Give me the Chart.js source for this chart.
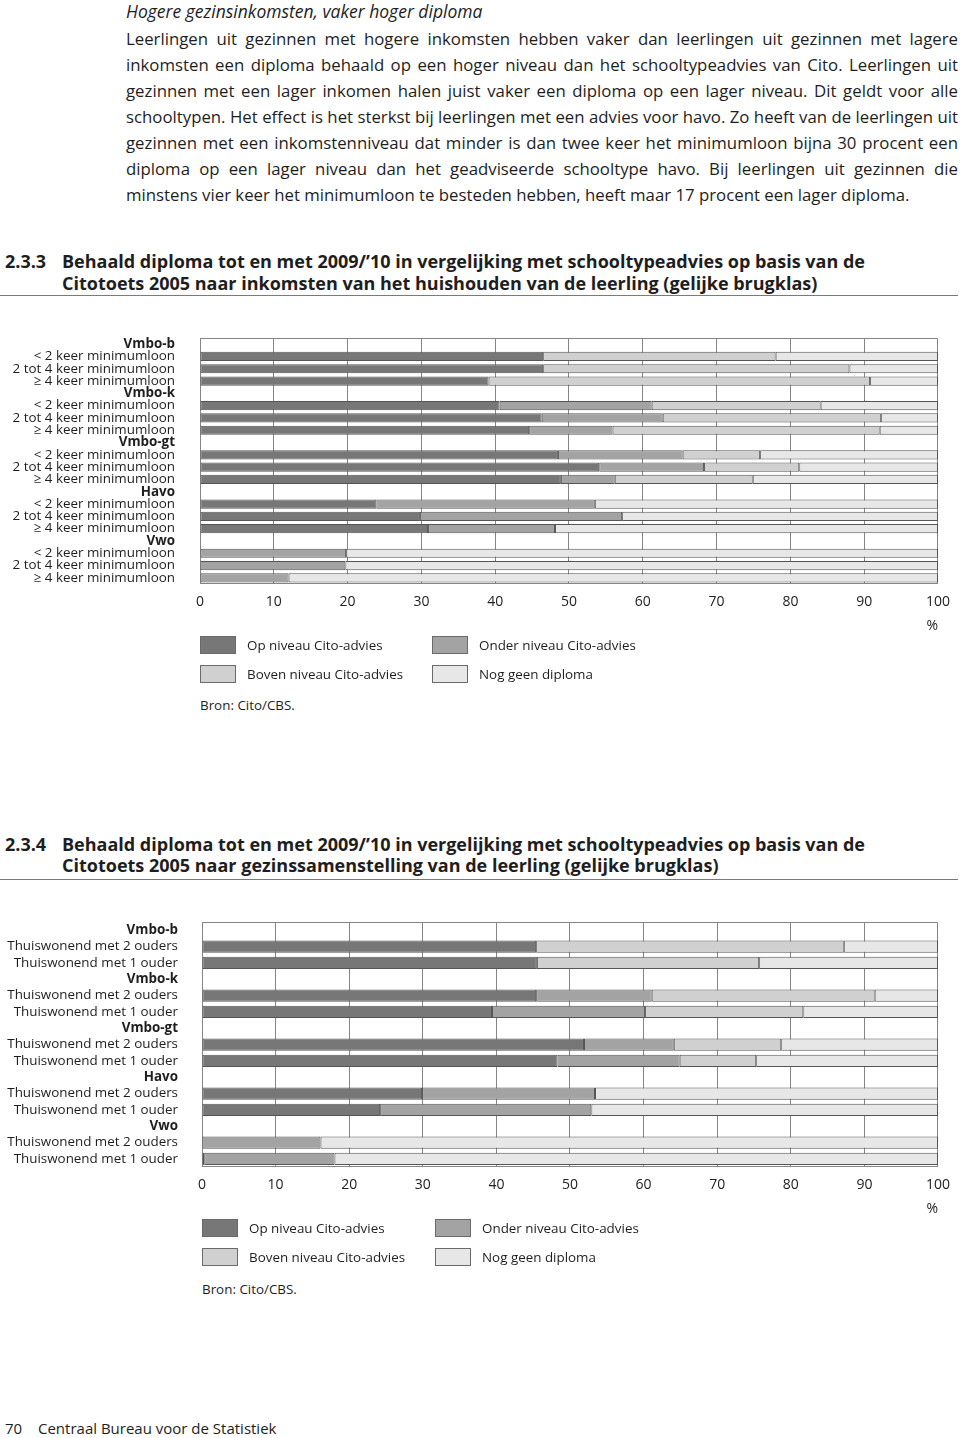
<!DOCTYPE html>
<html>
<head>
<meta charset="utf-8">
<script src="https://cdn.jsdelivr.net/npm/chart.js@4/dist/chart.umd.min.js"></script>
<style>
  body { margin: 0; width: 960px; height: 1438px; position: relative; background: #fff; overflow: hidden;
         font-family: "Open Sans", sans-serif; color: #1e1e1e; }
  .t { position: absolute; white-space: nowrap; line-height: 20px; }
  .body { font-size: 16.8px; }
  .head { font-size: 18px; font-weight: 700; }
  .rule { position: absolute; left: 0; width: 958px; height: 0; border-top: 1.5px solid #7a7a7a; }
  .legend { position: absolute; font-size: 13.4px; }
  .sw { position: absolute; width: 34px; height: 16px; border: 1px solid #6a6a6a; }
  .lt { position: absolute; white-space: nowrap; line-height: 18px; }
  canvas { position: absolute; left: 0; }
</style>
</head>
<body>

<div class="t" style="left:126px;top:1px;font-style:italic;font-size:17.5px">Hogere gezinsinkomsten, vaker hoger diploma</div>
<div id="para"></div>

<div class="t head" style="left:5px;top:251px">2.3.3</div>
<div class="t head" style="left:62px;top:251px">Behaald diploma tot en met 2009/’10 in vergelijking met schooltypeadvies op basis van de</div>
<div class="t head" style="left:62px;top:273px">Citotoets 2005 naar inkomsten van het huishouden van de leerling (gelijke brugklas)</div>
<div class="rule" style="top:295px"></div>

<canvas id="chart1" width="960" height="310" style="top:330px;width:960px;height:310px"></canvas>
<div id="legend1"></div>
<div class="t" style="left:200px;top:695px;font-size:13.4px">Bron: Cito/CBS.</div>

<div class="t head" style="left:5px;top:834px">2.3.4</div>
<div class="t head" style="left:62px;top:834px">Behaald diploma tot en met 2009/’10 in vergelijking met schooltypeadvies op basis van de</div>
<div class="t head" style="left:62px;top:855px">Citotoets 2005 naar gezinssamenstelling van de leerling (gelijke brugklas)</div>
<div class="rule" style="top:879px"></div>

<canvas id="chart2" width="960" height="310" style="top:914px;width:960px;height:310px"></canvas>
<div id="legend2"></div>
<div class="t" style="left:202px;top:1279px;font-size:13.4px">Bron: Cito/CBS.</div>

<div class="t" style="left:5px;top:1418px;font-size:15px">70</div>
<div class="t" style="left:38px;top:1418px;font-size:15px">Centraal Bureau voor de Statistiek</div>

<script>
// text of the paragraph, one entry per printed line
const paraLines = [
    'Leerlingen uit gezinnen met hogere inkomsten hebben vaker dan leerlingen uit gezinnen met lagere',
    'inkomsten een diploma behaald op een hoger niveau dan het schooltypeadvies van Cito. Leerlingen uit',
    'gezinnen met een lager inkomen halen juist vaker een diploma op een lager niveau. Dit geldt voor alle',
    'schooltypen. Het effect is het sterkst bij leerlingen met een advies voor havo. Zo heeft van de leerlingen uit',
    'gezinnen met een inkomstenniveau dat minder is dan twee keer het minimumloon bijna 30 procent een',
    'diploma op een lager niveau dan het geadviseerde schooltype havo. Bij leerlingen uit gezinnen die',
    'minstens vier keer het minimumloon te besteden hebben, heeft maar 17 procent een lager diploma.'
];

const seriesNames = ['Op niveau Cito-advies', 'Onder niveau Cito-advies', 'Boven niveau Cito-advies', 'Nog geen diploma'];
const seriesColors = ['#777777', '#a3a3a3', '#d0d0d0', '#e7e7e7'];
const headerNames = ['Vmbo-b', 'Vmbo-k', 'Vmbo-gt', 'Havo', 'Vwo'];
const xTicks = [0, 10, 20, 30, 40, 50, 60, 70, 80, 90, 100];

// chart 2.3.3: income
const labels1 = [
    'Vmbo-b', '< 2 keer minimumloon', '2 tot 4 keer minimumloon', '≥ 4 keer minimumloon',
    'Vmbo-k', '< 2 keer minimumloon', '2 tot 4 keer minimumloon', '≥ 4 keer minimumloon',
    'Vmbo-gt', '< 2 keer minimumloon', '2 tot 4 keer minimumloon', '≥ 4 keer minimumloon',
    'Havo', '< 2 keer minimumloon', '2 tot 4 keer minimumloon', '≥ 4 keer minimumloon',
    'Vwo', '< 2 keer minimumloon', '2 tot 4 keer minimumloon', '≥ 4 keer minimumloon'
];
const op1    = [null, 46.5, 46.5, 39.1, null, 40.6, 46.3, 44.6, null, 48.5, 54.1, 48.9, null, 23.9, 29.8, 30.9, null, null, null, null];
const onder1 = [null, null, null, null, null, 20.6, 16.4, 11.3, null, 16.9, 14.2, 7.3, null, 29.6, 27.4, 17.2, null, 19.8, 19.7, 12.0];
const boven1 = [null, 31.5, 41.5, 51.7, null, 22.9, 29.6, 36.2, null, 10.5, 12.9, 18.7, null, null, null, null, null, null, null, null];
const nog1   = [null, 22.0, 12.0, 9.2, null, 15.9, 7.7, 7.9, null, 24.1, 18.8, 25.1, null, 46.5, 42.8, 51.9, null, 80.2, 80.3, 88.0];

// chart 2.3.4: household
const labels2 = [
    'Vmbo-b', 'Thuiswonend met 2 ouders', 'Thuiswonend met 1 ouder',
    'Vmbo-k', 'Thuiswonend met 2 ouders', 'Thuiswonend met 1 ouder',
    'Vmbo-gt', 'Thuiswonend met 2 ouders', 'Thuiswonend met 1 ouder',
    'Havo', 'Thuiswonend met 2 ouders', 'Thuiswonend met 1 ouder',
    'Vwo', 'Thuiswonend met 2 ouders', 'Thuiswonend met 1 ouder'
];
const op2    = [null, 45.4, 45.5, null, 45.4, 39.4, null, 51.9, 48.3, null, 29.9, 24.2, null, null, 0.3];
const onder2 = [null, null, null, null, 15.7, 20.8, null, 12.2, 16.6, null, 23.5, 28.7, null, 16.1, 17.7];
const boven2 = [null, 41.8, 30.2, null, 30.3, 21.5, null, 14.6, 10.4, null, null, null, null, null, null];
const nog2   = [null, 12.8, 24.3, null, 8.6, 18.3, null, 21.3, 24.7, null, 46.6, 47.1, null, 83.9, 82.0];

// paragraph lines, justified except the last one
const para = document.getElementById('para');
paraLines.forEach(function (line, i) {
    const d = document.createElement('div');
    d.className = 't body';
    d.style.left = '126px';
    d.style.top = (29 + i * 26) + 'px';
    d.textContent = line;
    para.appendChild(d);
    if (i < paraLines.length - 1) {
        const w = d.getBoundingClientRect().width;
        const spaces = line.split(' ').length - 1;
        d.style.wordSpacing = ((832 - w) / spaces) + 'px';
    }
});

function makeLegend(id, left, top, colGap) {
    const box = document.getElementById(id);
    [0, 1, 2, 3].forEach(function (k) {
        const col = k % 2, row = Math.floor(k / 2);
        const x = left + col * colGap, y = top + row * 29;
        const sw = document.createElement('div');
        sw.className = 'sw';
        sw.style.left = x + 'px';
        sw.style.top = y + 'px';
        sw.style.background = seriesColors[k];
        box.appendChild(sw);
        const lt = document.createElement('div');
        lt.className = 'lt legend';
        lt.style.left = (x + 47) + 'px';
        lt.style.top = y + 'px';
        lt.textContent = seriesNames[k];
        box.appendChild(lt);
    });
}

const framePlugin = {
    id: 'frame',
    beforeDatasetsDraw(chart) {
        const a = chart.chartArea, ctx = chart.ctx;
        ctx.save();
        ctx.strokeStyle = '#858585';
        ctx.lineWidth = 1;
        ctx.strokeRect(Math.round(a.left) + 0.5, Math.round(a.top) + 0.5,
                       Math.round(a.right - a.left) - 1, Math.round(a.bottom - a.top) - 1);
        ctx.restore();
    }
};

function makeChart(id, labels, values, yWidth, xHeight, labelPad, titlePad) {
    const ctx = document.getElementById(id).getContext('2d');
    return new Chart(ctx, {
        type: 'bar',
        data: {
            labels: labels,
            datasets: values.map(function (v, k) {
                return {
                    label: seriesNames[k],
                    data: v,
                    backgroundColor: seriesColors[k],
                    borderColor: '#555555',
                    borderWidth: 1,
                    borderSkipped: false,
                    barPercentage: 0.75,
                    categoryPercentage: 1
                };
            })
        },
        options: {
            indexAxis: 'y',
            responsive: false,
            animation: false,
            layout: { padding: { top: 8, right: 16, bottom: 0, left: 0 } },
            plugins: {
                legend: { display: false },
                tooltip: { enabled: false }
            },
            scales: {
                x: {
                    stacked: true,
                    min: 0,
                    max: 100,
                    afterBuildTicks: function (s) { s.ticks = xTicks.map(v => ({ value: v })); },
                    afterFit: function (s) { s.height = xHeight; },
                    grid: { color: '#858585', lineWidth: 1, drawTicks: false },
                    border: { display: false },
                    ticks: { padding: 10, color: '#222', font: { family: 'Open Sans', size: 14 }, maxRotation: 0 },
                    title: { display: true, text: '%', align: 'end', color: '#222',
                             font: { family: 'Open Sans', size: 14 }, padding: { top: 0, bottom: titlePad } }
                },
                y: {
                    stacked: true,
                    afterFit: function (s) {
                        s.width = yWidth;
                        s.paddingTop = 0;
                        s.paddingBottom = 0;
                    },
                    grid: { display: false, drawTicks: false },
                    border: { display: false },
                    ticks: {
                        autoSkip: false,
                        padding: labelPad,
                        color: '#1e1e1e',
                        font: function (c) {
                            const bold = headerNames.includes(labels[c.index]);
                            return { family: 'Open Sans', size: 13.4, weight: bold ? '700' : '400' };
                        }
                    }
                }
            }
        },
        plugins: [framePlugin]
    });
}

makeChart('chart1', labels1, [op1, onder1, boven1, nog1], 200, 56, 25, 6);
makeChart('chart2', labels2, [op2, onder2, boven2, nog2], 202, 57, 24, 7);
makeLegend('legend1', 200, 636, 232);
makeLegend('legend2', 202, 1219, 233);
</script>
</body>
</html>
